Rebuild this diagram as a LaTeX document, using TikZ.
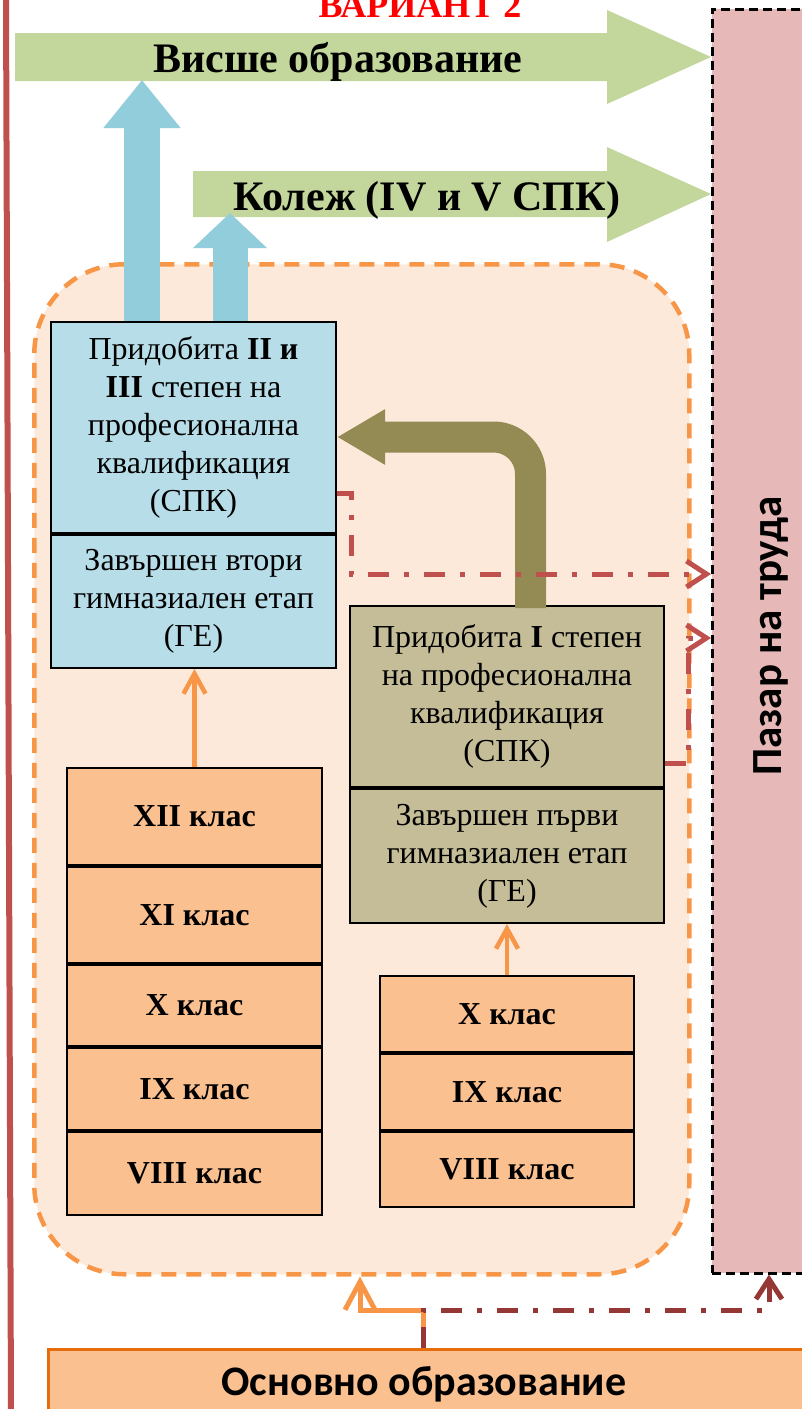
\documentclass[tikz,border=0pt]{standalone}
\usepackage{fontspec}
\setmainfont{Liberation Serif}
\newfontfamily\calibri{Carlito}
\usetikzlibrary{arrows.meta,calc}
\definecolor{greenA}{HTML}{C3D69B}
\definecolor{blueA}{HTML}{92CDDC}
\definecolor{blueBox}{HTML}{B7DEE8}
\definecolor{oliveBox}{HTML}{C4BD97}
\definecolor{oliveArr}{HTML}{948A54}
\definecolor{peach}{HTML}{FDE9D9}
\definecolor{orangeL}{HTML}{F79646}
\definecolor{classFill}{HTML}{FAC090}
\definecolor{orangeD}{HTML}{E46C0A}
\definecolor{pinkBox}{HTML}{E6B9B8}
\definecolor{redL}{HTML}{C0504D}
\definecolor{redD}{HTML}{953735}
\tikzset{
  box/.style={draw=black, line width=2pt, inner sep=0pt, align=center,
    font=\fontsize{32}{38}\selectfont},
  cls/.style={draw=black, line width=2pt, inner sep=0pt, fill=classFill,
    minimum width=255pt, font=\bfseries\fontsize{32}{38}\selectfont},
  clsr/.style={cls, minimum width=254pt},
  reddash/.style={line width=5pt, dash pattern=on 21pt off 15pt on 5pt off 15pt,
    -{Straight Barb[length=20pt,width=26pt,line width=5pt]}},
  orangearrow/.style={orangeL, line width=4.5pt,
    -{Straight Barb[length=20pt,width=22pt,line width=4.5pt]}},
  bluearrow/.style={blueA, line width=36pt, -{Triangle[length=48pt,width=74pt]}},
  greenlabel/.style={font=\bfseries\fontsize{42}{50}\selectfont, anchor=base}
}
\begin{document}
\begin{tikzpicture}[x=1pt,y=-1pt]
\useasboundingbox (0,0) rectangle (801,1409);
% left red rule
\draw[redL, line width=6pt] (6,0) -- (11,1409);
% title
\node[text=red, font=\bfseries\fontsize{36}{42}\selectfont, anchor=base] (title) at (420,17) {ВАРИАНТ 2};
% labour market
\node[draw=black, line width=2.5pt, dash pattern=on 9pt off 5pt, fill=pinkBox,
  minimum width=140pt, minimum height=1264pt, anchor=north west, inner sep=0pt] (market) at (711,8) {};
\node[rotate=90, font=\calibri\bfseries\fontsize{43}{50}\selectfont] (marketlabel) at (771,636) {Пазар на труда};
% green arrows
\fill[greenA] (15,33) -- (607,33) -- (607,10) -- (711,57) -- (607,104) -- (607,81) -- (15,81) -- cycle;
\node[greenlabel] (higher) at (338,72) {Висше образование};
\fill[greenA] (193,171) -- (607,171) -- (607,147) -- (711,194) -- (607,242) -- (607,217) -- (193,217) -- cycle;
\node[greenlabel] (college) at (427,210) {Колеж (IV и V СПК)};
% secondary school track
\node[draw=orangeL, line width=4.5pt, dash pattern=on 15pt off 10pt, fill=peach,
  rounded corners=90pt, minimum width=655pt, minimum height=1010pt,
  anchor=north west, inner sep=0pt] (track) at (32,262) {};
% blue boxes
\node[box, fill=blueBox, minimum width=285pt, minimum height=211pt, anchor=north west] (spk) at (50,321)
  {Придобита \textbf{II и}\\\textbf{III} степен на\\професионална\\квалификация\\(СПК)};
\node[box, fill=blueBox, minimum width=285pt, minimum height=133pt, anchor=north] (ge2) at (spk.south)
  {Завършен втори\\гимназиален етап\\(ГЕ)};
% olive boxes
\node[box, fill=oliveBox, minimum width=314pt, minimum height=181pt, anchor=north west] (spk1) at (349,605)
  {Придобита \textbf{I} степен\\на професионална\\квалификация\\(СПК)};
\node[box, fill=oliveBox, minimum width=314pt, minimum height=134pt, anchor=north] (ge1) at (spk1.south)
  {Завършен първи\\гимназиален етап\\(ГЕ)};
% left stack
\node[cls, minimum height=97pt, anchor=north west] (c12) at (66,767) {XII клас};
\node[cls, minimum height=96pt, anchor=north] (c11) at (c12.south) {XI клас};
\node[cls, minimum height=81pt, anchor=north] (c10) at (c11.south) {X клас};
\node[cls, minimum height=82pt, anchor=north] (c9) at (c10.south) {IX клас};
\node[cls, minimum height=83pt, anchor=north] (c8) at (c9.south) {VIII клас};
% right stack
\node[clsr, minimum height=76pt, anchor=north west] (r10) at (379,975) {X клас};
\node[clsr, minimum height=76pt, anchor=north] (r9) at (r10.south) {IX клас};
\node[clsr, minimum height=75pt, anchor=north] (r8) at (r9.south) {VIII клас};
% basic education
\node[draw=orangeD, line width=3pt, fill=classFill, minimum width=800pt, minimum height=100pt,
  anchor=north west, inner sep=0pt] (basic) at (47,1348) {};
\node[font=\calibri\bfseries\fontsize{42}{50}\selectfont, anchor=base] (basiclabel) at (424,1395) {Основно образование};
% blue arrows
\coordinate (b1) at (142,80);
\coordinate (b2) at (230,213);
\draw[bluearrow] (b1 |- spk.north) -- (b1);
\draw[bluearrow, line width=35pt, -{Triangle[length=35pt,width=72pt]}] (b2 |- spk.north) -- (b2);
% olive bent arrow
\coordinate (oc) at (530.5,437);
\draw[oliveArr, line width=31pt, rounded corners=37pt, -{Triangle[length=48pt,width=52pt]}]
  ($(oc |- spk1.north)+(0,3)$) -- (oc) -- (oc -| spk.east);
% orange arrows
\draw[orangearrow] (c12.north) -- (c12.north |- ge2.south);
\draw[orangearrow] (r10.north) -- (r10.north |- ge1.south);
% red dash-dot connectors
\coordinate (r1) at (351,493);
\coordinate (r1b) at (351,574);
\draw[redL, reddash] (r1 -| spk.east) -- (r1) -- (r1b) -- (r1b -| market.west);
\coordinate (r2) at (688,763);
\coordinate (r2b) at (688,638);
\draw[redL, reddash] (r2 -| spk1.east) -- (r2) -- (r2b) -- (r2b -| market.west);
% bottom connectors
\coordinate (r3) at (423,1310);
\coordinate (r3b) at (769,1310);
\coordinate (o3) at (360,1310);
\draw[orangeL, line width=5pt, -{Straight Barb[length=28pt,width=30pt,line width=5pt]}]
  (r3 |- basic.north) -- (r3) -- (o3) -- (o3 |- track.south);
\draw[redD, reddash] (r3 |- basic.north) -- (r3) -- (r3b) -- (r3b |- market.south);
\end{tikzpicture}
\end{document}
